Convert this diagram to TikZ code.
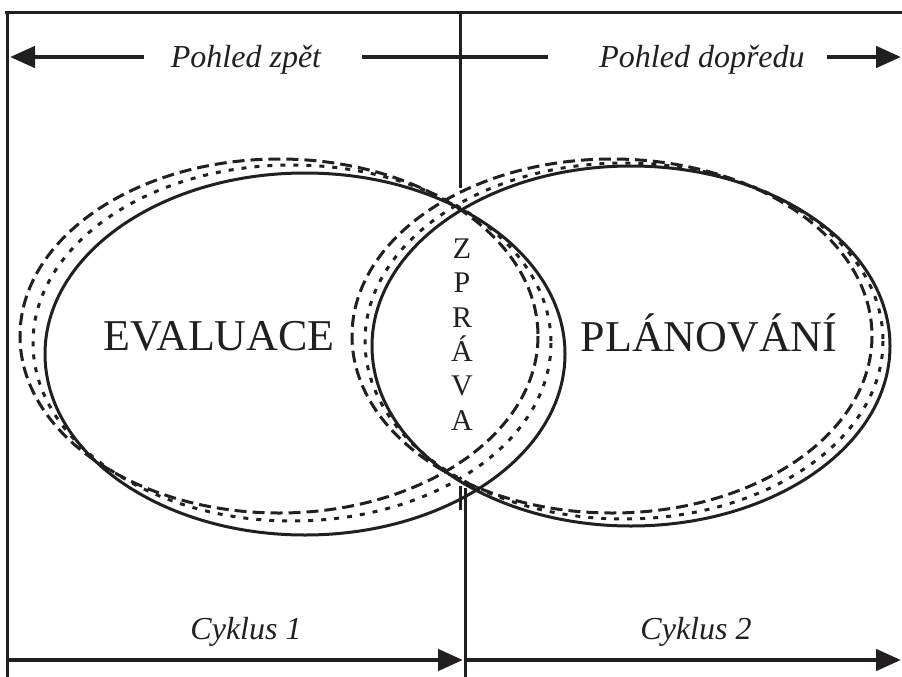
\documentclass[tikz,border=0pt]{standalone}
\usepackage{fontspec}
\setmainfont{Liberation Serif}
\usetikzlibrary{arrows.meta}
\definecolor{ink}{RGB}{35,31,32}
\begin{document}
\begin{tikzpicture}[x=1pt,y=-1pt,
  frame/.style={draw=ink,line width=3pt},
  arr/.style={draw=ink,line width=4.6pt,-{Triangle[length=25pt,width=21pt]}},
  bar/.style={draw=ink,line width=4.6pt},
  solidell/.style={draw=ink,line width=3pt},
  dashell/.style={draw=ink,line width=3pt,dash pattern=on 12pt off 6pt},
  dotell/.style={draw=ink,line width=3pt,dash pattern=on 5pt off 8pt},
  big/.style={font=\fontsize{44}{48}\selectfont,text=ink,inner sep=0pt},
  lab/.style={font=\fontsize{32}{36}\selectfont\itshape,text=ink,inner sep=0pt},
  vert/.style={font=\fontsize{30}{34}\selectfont,text=ink,inner sep=0pt,anchor=base}]
\useasboundingbox (0,0) rectangle (902,677);
% frame
\coordinate (tl) at (5,13);
\coordinate (tr) at (902,13);
\coordinate (lt) at (7,13);
\coordinate (lb) at (7,677);
\coordinate (mt) at (460,13);
\coordinate (mm) at (460,188);
\coordinate (st) at (460,486);
\coordinate (sb) at (460,510);
\coordinate (bt) at (465,488);
\coordinate (bb) at (465,677);
\draw[frame] (tl) -- (tr);
\draw[frame] (lt) -- (lb);
\draw[frame] (mt) -- (mm);
\draw[frame] (st) -- (sb);
\draw[frame] (bt) -- (bb);
% ellipses
\draw[solidell] (305,354) ellipse [x radius=260, y radius=181];
\draw[dotell] (292,343) ellipse [x radius=259, y radius=178];
\draw[dashell] (279,336) ellipse [x radius=259, y radius=177];
\draw[solidell] (631,346) ellipse [x radius=259, y radius=180];
\draw[dotell] (624,341) ellipse [x radius=259, y radius=178];
\draw[dashell] (612,336) ellipse [x radius=260, y radius=177];
% top labels and arrows
\node[lab,anchor=base] (pz) at (246,67) {Pohled zpět};
\node[lab,anchor=base] (pd) at (702,67) {Pohled dopředu};
\coordinate (a1s) at (144,57);
\coordinate (a1e) at (10,57);
\coordinate (m1) at (362,57);
\coordinate (m2) at (548,57);
\coordinate (a2s) at (827,57);
\coordinate (a2e) at (901,57);
\draw[arr] (a1s) -- (a1e);
\draw[bar] (m1) -- (m2);
\draw[arr] (a2s) -- (a2e);
% bottom labels and arrows
\node[lab,anchor=base] (c1) at (246,639) {Cyklus 1};
\node[lab,anchor=base] (c2) at (696,639) {Cyklus 2};
\coordinate (b1s) at (7,660);
\coordinate (b1e) at (463,660);
\coordinate (b2s) at (465,660);
\coordinate (b2e) at (901,660);
\draw[arr] (b1s) -- (b1e);
\draw[arr] (b2s) -- (b2e);
% main texts
\node[big,anchor=base] (ev) at (219,350) {EVALUACE};
\node[big,anchor=base] (pl) at (709,351) {PLÁNOVÁNÍ};
% vertical word
\node[vert] (z1) at (462,258) {Z};
\node[vert] (z2) at (462,292) {P};
\node[vert] (z3) at (462,327) {R};
\node[vert] (z4) at (462,361) {Á};
\node[vert] (z5) at (462,395) {V};
\node[vert] (z6) at (462,430) {A};
\end{tikzpicture}
\end{document}
